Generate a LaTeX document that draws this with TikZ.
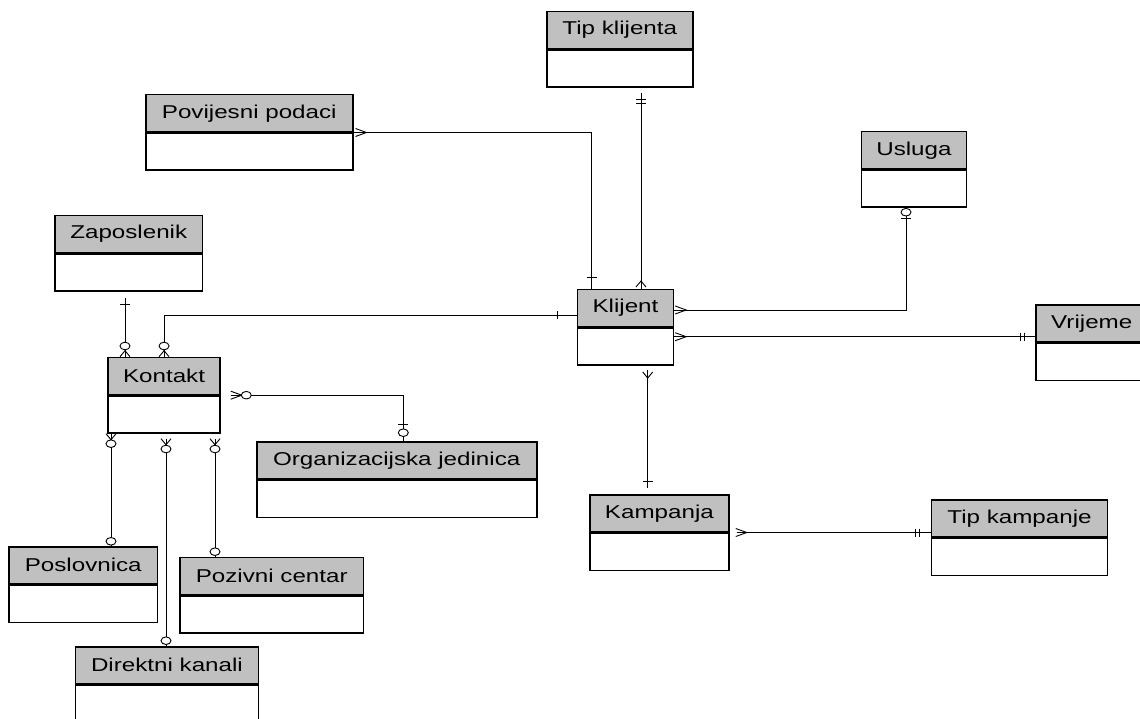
\documentclass[tikz,border=0pt]{standalone}
\usepackage{fontspec}
\setmainfont{Liberation Sans}[FakeStretch=1.3]
\usetikzlibrary{calc}
\definecolor{hdrgray}{RGB}{192,192,192}
\newcommand\erent[5]{%
  \node[hd, minimum width=#4pt] (#1) at (#2,#3) {#5};
  \node[bd, minimum width=#4pt] (#1-b) at (#1.south west) {};
}
\begin{document}
\begin{tikzpicture}[x=1pt,y=-1pt,
  hd/.style={draw, line width=1.5pt, fill=hdrgray, inner sep=0pt, minimum height=37pt, anchor=north west, font=\fontsize{18.6}{22}\selectfont},
  bd/.style={draw, line width=1.5pt, fill=white, inner sep=0pt, minimum height=37pt, anchor=north west},
  con/.style={line width=0.9pt},
  vtick/.pic={\draw[con] (-5,0) -- (5,0);},
  htick/.pic={\draw[con] (0,-4) -- (0,4);},
  oval/.pic={\draw[con, fill=white] (0,0) ellipse [x radius=5, y radius=3.8];},
  crowdown/.pic={\draw[con] (-5,6) -- (0,0) -- (5,6);},
  crowup/.pic={\draw[con] (-5,-6) -- (0,0) -- (5,-6);},
  crowleft/.pic={\draw[con] (-11,-4) -- (0,0) -- (-11,4);},
]
\useasboundingbox (0,0) rectangle (1140,719);
\clip (0,0) rectangle (1140,719);

\erent{tipk}{546}{10.7}{146}{Tip klijenta}
\erent{pov}{145}{94}{207}{Povijesni podaci}
\erent{zap}{54.3}{214.7}{147.4}{Zaposlenik}
\erent{kon}{107.3}{356.7}{112}{Kontakt}
\erent{org}{256}{441}{280}{Organizacijska jedinica}
\erent{pos}{8.3}{546}{148.4}{Poslovnica}
\erent{poz}{179.3}{556.7}{183.4}{Pozivni centar}
\erent{dir}{74.7}{646}{183}{Direktni kanali}
\erent{kli}{576.7}{288.7}{96}{Klijent}
\erent{usl}{860.7}{131}{105}{Usluga}
\erent{vri}{1035}{304}{112}{Vrijeme}
\erent{kam}{589}{494}{139.3}{Kampanja}
\erent{tkam}{930.7}{499}{176.1}{Tip kampanje}

% Tip klijenta -- Klijent
\coordinate (a1) at ($(tipk-b.south west)+(95,5)$);
\coordinate (b1) at (a1 |- kli.north);
\draw[con] (a1) -- (b1);
\pic at ($(a1)+(0,7)$) {vtick};
\pic at ($(a1)+(0,10.5)$) {vtick};
\pic at ($(b1)+(0,-7.7)$) {crowdown};

% Povijesni podaci -- Klijent
\coordinate (b2) at ($(kli.north west)+(15,0)$);
\draw[con] (pov.south east) -| (b2);
\pic at ($(pov.south east)+(13,0)$) {crowleft};
\pic at ($(b2)+(0,-11)$) {vtick};

% Klijent -- Kontakt
\coordinate (a3) at ($(kli.north west)+(0,26.3)$);
\draw[con] (a3) -| (kon.north);
\pic at ($(a3)+(-19,0)$) {htick};
\pic at ($(kon.north)+(0,-6)$) {crowdown};
\pic at ($(kon.north)+(0,-10.7)$) {oval};

% Zaposlenik -- Kontakt
\coordinate (a4) at ($(zap-b.south west)+(70.7,6)$);
\coordinate (b4) at (a4 |- kon.north);
\draw[con] (a4) -- (b4);
\pic at ($(a4)+(0,6.3)$) {vtick};
\pic at ($(b4)+(0,-6)$) {crowdown};
\pic at ($(b4)+(0,-10.7)$) {oval};

% Kontakt -- Organizacijska jedinica
\coordinate (a5) at ($(kon.south east)+(10,0)$);
\coordinate (b5) at ($(org.north west)+(147.3,0)$);
\draw[con] (a5) -| (b5);
\pic at ($(a5)+(11,0)$) {crowleft};
\pic at ($(a5)+(15.5,0)$) {oval};
\pic at ($(b5)+(0,-16.7)$) {vtick};
\pic at ($(b5)+(0,-8.3)$) {oval};

% Kontakt -- Poslovnica
\coordinate (a6) at ($(kon-b.south west)+(3.7,0)$);
\coordinate (b6) at (a6 |- pos.north);
\draw[con] (a6) -- (b6);
\pic at ($(a6)+(0,6)$) {crowup};
\pic at ($(a6)+(0,10)$) {oval};
\pic at ($(b6)+(0,-4.7)$) {oval};

% Kontakt -- Direktni kanali
\coordinate (a7) at ($(kon-b.south west)+(58.7,5)$);
\coordinate (b7) at (a7 |- dir.north);
\draw[con] (a7) -- (b7);
\pic at ($(a7)+(0,6)$) {crowup};
\pic at ($(a7)+(0,10.3)$) {oval};
\pic at ($(b7)+(0,-5.3)$) {oval};

% Kontakt -- Pozivni centar
\coordinate (a8) at ($(kon-b.south west)+(107.7,5)$);
\coordinate (b8) at (a8 |- poz.north);
\draw[con] (a8) -- (b8);
\pic at ($(a8)+(0,6)$) {crowup};
\pic at ($(a8)+(0,10.3)$) {oval};
\pic at ($(b8)+(0,-5)$) {oval};

% Usluga -- Klijent
\coordinate (a9) at ($(usl-b.south west)+(45.3,0)$);
\coordinate (b9) at ($(kli.north east)+(0,21.3)$);
\draw[con] (a9) |- (b9);
\pic at ($(a9)+(0,10.3)$) {vtick};
\pic at ($(a9)+(0,4.2)$) {oval};
\pic at ($(b9)+(12,0)$) {crowleft};

% Klijent -- Vrijeme
\coordinate (a10) at ($(kli.north east)+(0,48)$);
\coordinate (b10) at (a10 -| vri.west);
\draw[con] (a10) -- (b10);
\pic at ($(a10)+(12,0)$) {crowleft};
\pic at ($(b10)+(-15,0)$) {htick};
\pic at ($(b10)+(-10.3,0)$) {htick};

% Klijent -- Kampanja
\coordinate (a11) at ($(kli-b.south west)+(71,4.3)$);
\coordinate (b11) at ($(kam.north west)+(58.7,-6)$);
\draw[con] (a11) -- (b11);
\pic at ($(a11)+(0,8)$) {crowup};
\pic at ($(b11)+(0,-7)$) {vtick};

% Kampanja -- Tip kampanje
\coordinate (a12) at ($(kam.south east)+(7,0)$);
\coordinate (b12) at (a12 -| tkam.west);
\draw[con] (a12) -- (b12);
\pic at ($(a12)+(10,0)$) {crowleft};
\pic at ($(b12)+(-15.7,0)$) {htick};
\pic at ($(b12)+(-11,0)$) {htick};
\end{tikzpicture}
\end{document}
